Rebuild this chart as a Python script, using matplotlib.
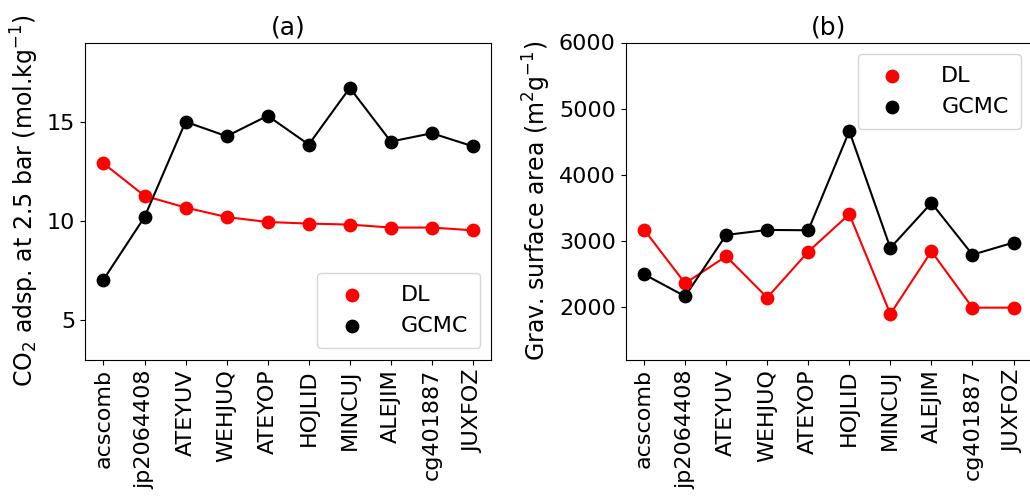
import numpy as np
import matplotlib.pyplot as plt

# structures
names = ['acscomb', 'jp2064408', 'ATEYUV', 'WEHJUQ', 'ATEYOP',
         'HOJLID', 'MINCUJ', 'ALEJIM', 'cg401887', 'JUXFOZ']

# CO2 uptake at 2.5 bar (mol/kg)
co2_dl   = [12.9, 11.26, 10.67, 10.19, 9.94, 9.86, 9.81, 9.66, 9.66, 9.52]
co2_gcmc = [7.03, 10.19, 15.0, 14.27, 15.3, 13.85, 16.71, 14.0, 14.42, 13.76]

# gravimetric surface area (m2/g)
sa_dl   = [3167, 2354, 2762, 2137, 2833, 3400, 1889, 2838, 1985, 1985]
sa_gcmc = [2491, 2157, 3086, 3162, 3157, 4658, 2889, 3570, 2787, 2970]

fs = 16
x = np.arange(len(names))

fig, axes = plt.subplots(1, 2, figsize=(10.3, 4.99), dpi=100)
fig.subplots_adjust(left=85/1030, right=1032/1030, bottom=1 - 359.5/499,
                    top=1 - 42.5/499, wspace=0.33)

#panel a
ax = axes[0]
ax.plot(x, co2_dl, color='red', lw=1.5)
ax.plot(x, co2_gcmc, color='black', lw=1.5)
ax.scatter(x, co2_dl, color='red', s=80, zorder=3, label='DL')
ax.scatter(x, co2_gcmc, color='black', s=80, zorder=3, label='GCMC')
ax.set_ylim(3, 19)
ax.set_yticks([5, 10, 15])
ax.set_xticks(x)
ax.set_xticklabels(names, rotation=90)
ax.tick_params(labelsize=fs)
ax.set_ylabel(r'CO$_2$ adsp. at 2.5 bar (mol.kg$^{-1}$)', fontsize=17)
ax.set_title('(a)', fontsize=18)
ax.legend(loc='lower right', fontsize=fs, handletextpad=1.2, borderpad=0.55)

#panel b
ax = axes[1]
ax.plot(x, sa_dl, color='red', lw=1.5)
ax.plot(x, sa_gcmc, color='black', lw=1.5)
ax.scatter(x, sa_dl, color='red', s=80, zorder=3, label='DL')
ax.scatter(x, sa_gcmc, color='black', s=80, zorder=3, label='GCMC')
ax.set_ylim(1200, 6000)
ax.set_yticks([2000, 3000, 4000, 5000, 6000])
ax.set_xticks(x)
ax.set_xticklabels(names, rotation=90)
ax.tick_params(labelsize=fs)
ax.set_ylabel(r'Grav. surface area (m$^2$g$^{-1}$)', fontsize=17)
ax.set_title('(b)', fontsize=18)
ax.legend(loc='upper right', fontsize=fs, handletextpad=1.2, borderpad=0.55)

fig.savefig('out.png', dpi=100)
